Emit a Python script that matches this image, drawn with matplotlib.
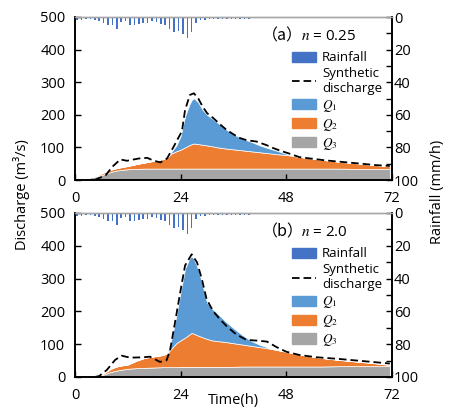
import matplotlib
matplotlib.use('Agg')
import matplotlib.pyplot as plt
from matplotlib.patches import Patch
from matplotlib.lines import Line2D
import numpy as np

plt.rcParams['font.family'] = ['Open Sans', 'DejaVu Sans']
plt.rcParams['mathtext.fontset'] = 'stix'

# hourly rainfall (mm/h), same storm in both runs
rain_t = np.arange(44) + 0.5
rain = [1.6, 1.6, 1.4, 1.4, 1.6, 2.5, 3.5, 5.1, 5.1, 7.2,
        3.3, 2.7, 5.1, 5.1, 4.1, 3.7, 3.5, 2.7, 3.1, 4.5,
        5.1, 7.2, 9.2, 8.6, 10.2, 12.7, 9.2, 3.7, 2.0, 1.6,
        1.4, 1.4, 1.3, 1.3, 1.2, 1.2, 1.1, 1.1, 1.0, 1.0,
        0.9, 0.9, 0.8, 0.8]

# time grid of the runoff components (h)
t = [0, 2, 4, 5, 6, 7, 8, 9, 10, 12, 14, 16, 18, 20, 21, 22, 23, 24, 25, 26,
     26.5, 27, 28, 29, 30, 31, 32, 34, 36, 38, 40, 42, 44, 46, 48, 50, 52, 56,
     60, 64, 68, 71.5]

# (a) n = 0.25
q3_a = [2, 5, 9, 12, 15, 20, 24, 28, 30, 33, 34, 35, 35, 35, 35, 35, 35, 35, 35, 35,
        35, 35, 35, 35, 35, 35, 35, 35, 35, 35, 35, 35, 35, 35, 35, 35, 35, 35,
        35, 34, 34, 34]
q2_a = [0, 0, 1, 2, 5, 6, 7, 7, 8, 10, 15, 19, 24, 29, 35, 47, 53, 58, 65, 72,
        75, 77, 75, 73, 71, 69, 66, 62, 59, 56, 53, 50, 47, 44, 42, 38, 34, 27,
        21, 17, 12, 8]
q1_a = [0, 0, 0, 0, 0, 0, 0, 0, 0, 0, 0, 0, 0, 0, 0, 6, 17, 42, 95, 125,
        135, 139, 128, 107, 94, 86, 79, 61, 46, 36, 29, 21, 15, 10, 3, 0, 0, 0,
        0, 0, 0, 0]
syn_t_a = [4.5, 7, 8.5, 10.3, 11.8, 14.5, 16.4, 17.9, 19.4, 20.9,
           22.4, 23.5, 24.3, 25, 26.1, 27, 28, 29, 30, 31.4,
           33, 34.4, 36, 37.4, 39, 41.2, 43.5, 45, 46.6, 48.9,
           51, 54, 57, 61, 65, 68, 71.5]
syn_a = [0, 15, 41, 63, 59, 66, 68, 59, 54, 66,
         102, 130, 150, 215, 261, 266, 250, 225, 205, 190,
         170, 154, 140, 129, 122, 118, 107, 98, 90, 80,
         70, 65, 60, 55, 50, 46, 43]

# (b) n = 2.0
q3_b = [1, 1, 1, 2, 5, 10, 15, 18, 21, 25, 27, 28, 29, 30, 30, 30, 30, 31, 31, 31,
        31, 31, 31, 31, 31, 31, 31, 31, 31, 32, 32, 32, 32, 32, 32, 32, 32, 32,
        33, 33, 33, 33]
q2_b = [0, 0, 0, 0, 3, 5, 9, 12, 13, 13, 23, 31, 34, 37, 43, 58, 73, 81, 89, 99,
        103, 101, 95, 90, 85, 81, 79, 76, 72, 67, 63, 59, 55, 50, 45, 39, 34, 26,
        19, 14, 9, 4]
q1_b = [0, 0, 0, 0, 0, 0, 0, 0, 0, 0, 0, 0, 0, 0, 0, 32, 82, 148, 210, 232,
        234, 228, 202, 157, 110, 98, 88, 65, 46, 29, 15, 7, 2, 0, 0, 0, 0, 0,
        0, 0, 0, 0]
syn_t_b = [4.5, 5.5, 7.2, 9.1, 10.6, 12.5, 15.5, 17, 19.3, 20.8,
           21.6, 22.7, 23.9, 25, 26.5, 27.7, 28.8, 29.9, 31.4, 33,
           34.5, 36.7, 39, 41.3, 43.6, 45.8, 48, 51, 55, 60,
           65, 71.5]
syn_b = [0, 3, 21, 52, 65, 59, 60, 62, 46, 51,
         82, 165, 258, 340, 374, 350, 299, 237, 200, 175,
         154, 129, 113, 111, 108, 91, 77, 67, 60, 55,
         49, 41]

c_rain = '#4472C4'
c_q1 = '#5B9BD5'
c_q2 = '#ED7D31'
c_q3 = '#A5A5A5'
dash = (4.2, 2.2)

W, H = 451, 408
fig = plt.figure(figsize=(W / 100, H / 100), dpi=100)


def panel(rect, q1, q2, q3, st, sq, tag, nlabel):
    ax = fig.add_axes(rect)
    ax.stackplot(t, q3, q2, q1, colors=[c_q3, c_q2, c_q1],
                 edgecolor='white', linewidth=0.5)
    ax.plot(st, sq, color='black', lw=1.3, dashes=dash)
    ax.set_xlim(0, 72)
    ax.set_ylim(0, 500)
    ax.set_xticks([0, 24, 48, 72])
    ax.set_yticks(range(0, 501, 100))
    ax.tick_params(axis='y', direction='in', length=4, width=1, labelsize=10.5, pad=7)
    ax.tick_params(axis='x', direction='in', length=4, width=1, labelsize=10.5, pad=8)

    ax2 = ax.twinx()
    ax2.bar(rain_t, rain, width=0.35, color=c_rain)
    ax2.set_ylim(100, 0)
    ax2.set_yticks(range(0, 101, 20))
    ax2.set_yticks(range(10, 100, 20), minor=True)
    ax2.tick_params(axis='y', which='both', direction='in', length=4.5, width=1,
                    labelsize=10.5, pad=1.5)

    for a in (ax, ax2):
        for s in ('left', 'right', 'bottom'):
            a.spines[s].set_linewidth(1.2)
        a.spines['top'].set_color('#A6A6A6')
        a.spines['top'].set_linewidth(1.0)

    ax2.text(0.59, 0.883, tag, transform=ax.transAxes, fontsize=11.5,
             family='Noto Sans CJK SC', ha='left', va='center')
    ax2.text(0.713, 0.883, nlabel, transform=ax.transAxes, fontsize=11,
             ha='left', va='center')

    handles = [Patch(color=c_rain), Line2D([], [], color='black', lw=1.3, dashes=dash),
               Patch(color=c_q1), Patch(color=c_q2), Patch(color=c_q3)]
    labels = ['Rainfall', 'Synthetic\ndischarge', '$Q_1$', '$Q_2$', '$Q_3$']
    ax2.legend(handles, labels, loc='upper left', bbox_to_anchor=(0.684, 0.79),
               frameon=False, fontsize=9.5, handlelength=1.8, handleheight=0.8,
               handletextpad=0.5, labelspacing=0.22, borderpad=0, borderaxespad=0)
    return ax


panel([75 / W, 1 - 180 / H, 317 / W, 163 / H], q1_a, q2_a, q3_a,
      syn_t_a, syn_a, '（a）', '$n$ = 0.25')
panel([75 / W, 1 - 377 / H, 317 / W, 164 / H], q1_b, q2_b, q3_b,
      syn_t_b, syn_b, '（b）', '$n$ = 2.0')

fig.text(22 / W, 1 - 195 / H, 'Discharge (m³/s)', rotation=90,
         ha='center', va='center', fontsize=10.5)
fig.text(437 / W, 1 - 192 / H, 'Rainfall (mm/h)', rotation=90,
         ha='center', va='center', fontsize=10.5)
fig.text(233.5 / W, 1 - 393 / H, 'Time(h)', ha='center', va='top', fontsize=10.5)

fig.savefig('out.png', dpi=100)
